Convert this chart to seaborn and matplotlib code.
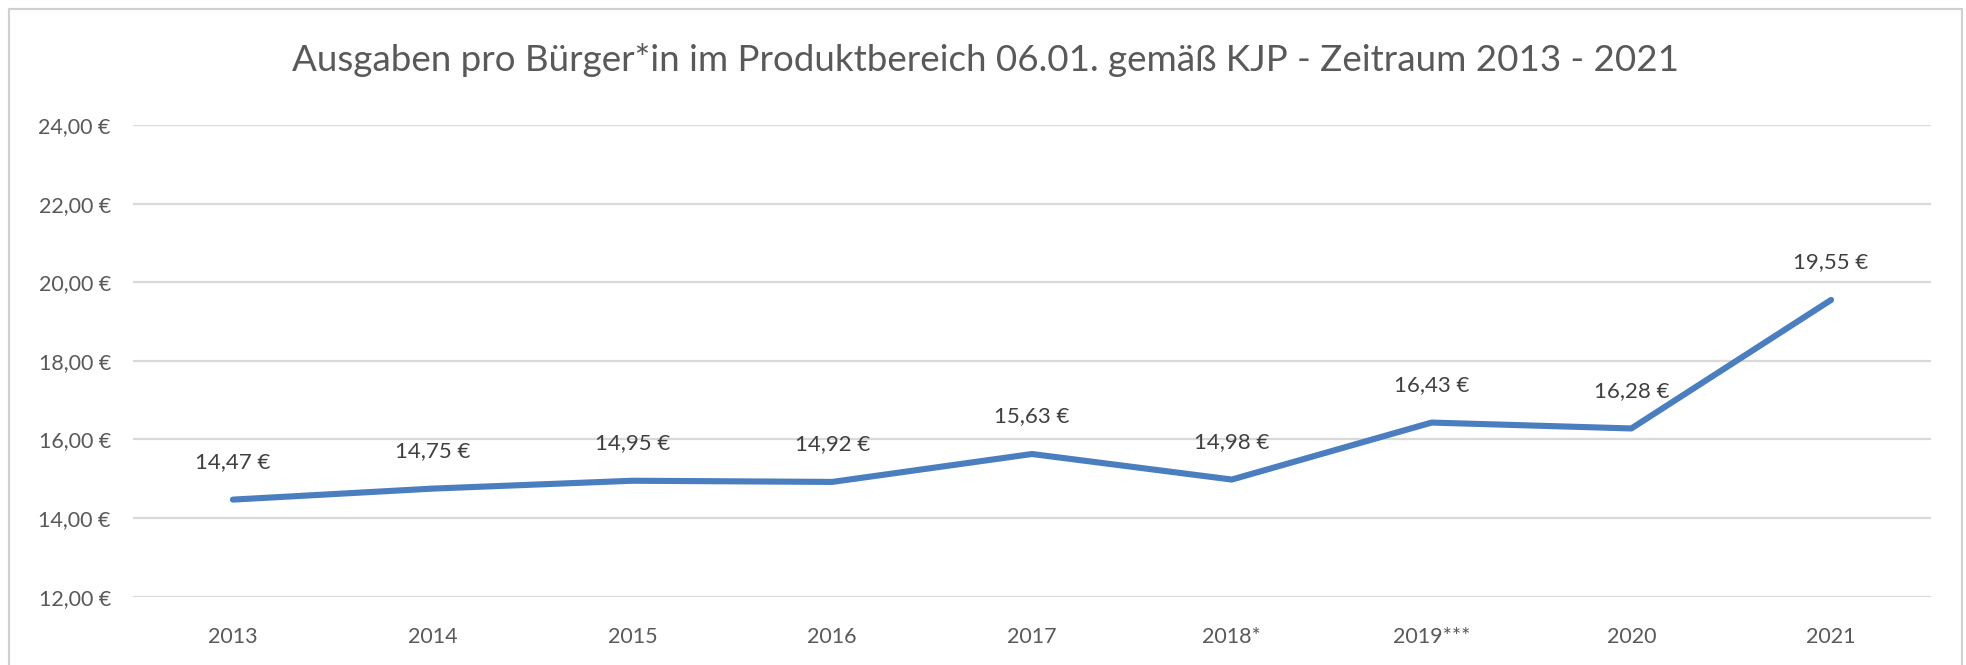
import matplotlib
matplotlib.use("Agg")
import matplotlib.pyplot as plt
import seaborn as sns
import pandas as pd
from matplotlib.patches import Rectangle

# values
jahre = ["2013", "2014", "2015", "2016", "2017", "2018*", "2019***", "2020", "2021"]
ausgaben = [14.47, 14.75, 14.95, 14.92, 15.63, 14.98, 16.43, 16.28, 19.55]
y_ticks = [12, 14, 16, 18, 20, 22, 24]
titel = "Ausgaben pro Bürger*in im Produktbereich 06.01. gemäß KJP - Zeitraum 2013 - 2021"

def euro(v):
    return f"{v:.2f}".replace(".", ",") + " €"

sns.set_theme(style="white")
plt.rcParams["font.family"] = ["Lato", "DejaVu Sans"]

grau = "#595959"
blau = "#4a7ebf"

df = pd.DataFrame({"Jahr": jahre, "Ausgaben": ausgaben})

W, H = 1966, 665
fig = plt.figure(figsize=(W / 100, H / 100), dpi=100)
ax = fig.add_axes([133 / W, 1 - 596.7 / H, (1931 - 133) / W, (596.7 - 125) / H])

sns.lineplot(data=df, x="Jahr", y="Ausgaben", ax=ax, color=blau, linewidth=4.4,
             solid_capstyle="round", solid_joinstyle="round", sort=False)

ax.set_xlim(-0.5, len(jahre) - 0.5)
ax.set_ylim(12, 24)
ax.set_yticks(y_ticks)
ax.set_yticklabels([euro(v) for v in y_ticks])
ax.set_xlabel("")
ax.set_ylabel("")
ax.grid(axis="y", color="#d9d9d9", linewidth=1.6)
ax.set_axisbelow(True)
for s in ax.spines.values():
    s.set_visible(False)
ax.tick_params(axis="both", length=0, colors=grau, labelsize=15.5)
ax.tick_params(axis="x", pad=22)
ax.tick_params(axis="y", pad=16)

for i, v in enumerate(ausgaben):
    ax.annotate(euro(v), (i, v), xytext=(0, 27), textcoords="offset points",
                ha="center", va="center", fontsize=16, color="#404040")

fig.text(985 / W, 1 - 60 / H, titel, ha="center", va="center", fontsize=26.5,
         color=grau)

# outer chart frame
fig.patches.append(Rectangle((9 / W, -0.01), (1962 - 9) / W, 1 - 9 / H + 0.01,
                             transform=fig.transFigure, fill=False,
                             edgecolor="#d0d0d0", linewidth=1.5))

fig.savefig("out.png", dpi=100)
